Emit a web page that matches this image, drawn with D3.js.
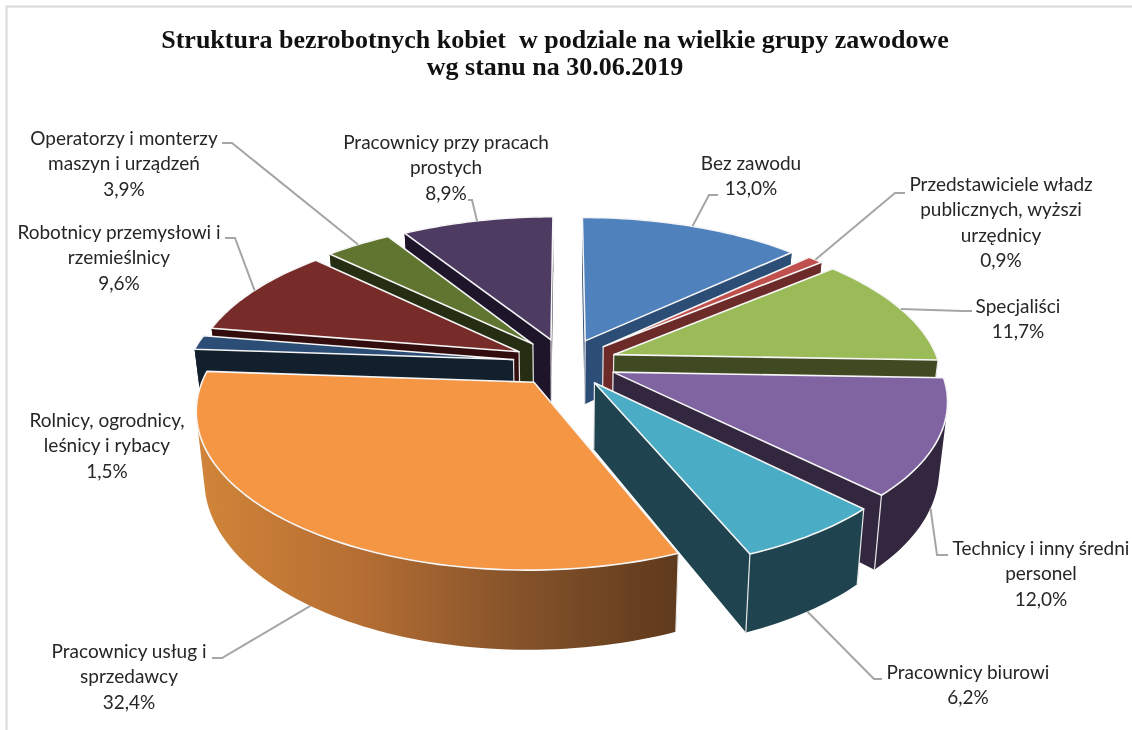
<!DOCTYPE html>
<html>
<head>
<meta charset="utf-8">
<style>
html, body { margin: 0; padding: 0; background: #fff; }
svg { display: block; filter: blur(0.35px); }
text { white-space: pre; }
</style>
</head>
<body>
<svg width="1132" height="730"></svg>
<script src="https://d3js.org/d3.v7.min.js"></script>
<script type="text/javascript">

// chart values
var values = [13.0, 0.9, 11.7, 12.0, 6.2, 32.4, 1.5, 9.6, 3.9, 8.9];
var percents = ["13,0%", "0,9%", "11,7%", "12,0%", "6,2%", "32,4%", "1,5%", "9,6%", "3,9%", "8,9%"];
var labelLines = [
	["Bez zawodu"],
	["Przedstawiciele władz", "publicznych, wyższi", "urzędnicy"],
	["Specjaliści"],
	["Technicy i inny średni", "personel"],
	["Pracownicy biurowi"],
	["Pracownicy usług i", "sprzedawcy"],
	["Rolnicy, ogrodnicy,", "leśnicy i rybacy"],
	["Robotnicy przemysłowi i", "rzemieślnicy"],
	["Operatorzy i monterzy", "maszyn i urządzeń"],
	["Pracownicy przy pracach", "prostych"]
];
var titleLines = ["Struktura bezrobotnych kobiet  w podziale na wielkie grupy zawodowe", "wg stanu na 30.06.2019"];

// colours
var topColors = ["#4f81bd", "#c0504d", "#9bbb59", "#8064a2", "#4bacc6", "#f59645", "#2c4d75", "#772c2a", "#5f7530", "#4d3b62"];
var wallColors = ["#2c4d75", "#6c2a28", "#404a22", "#33263f", "#1f444f", "#5f3a1c", "#12202e", "#330d0d", "#252e12", "#1e152b"];

// label layout: centre x, first line y, then the leader elbow and its end (null = no leader)
var labelX = [751, 1001, 1018, 1041, 968, 129, 107, 119, 124, 446];
var labelY = [163, 184, 306, 548, 672, 651, 420, 232, 138, 142];
var elbows = [[709, 195, 718, 195], [895, 193, 905, 193], [963, 311, 972, 311], [937, 555, 948, 555], [874, 679, 882, 679],
	[222, 658, 212, 658], null, [235, 238, 225, 238], [232, 143, 222, 143], [472, 200, 468, 200]];

var svg = d3.select("svg");
var width = 1132, height = 730;

// 3D pie geometry
var cx = 565, cy = 362.4;
var radiusX = 325, radiusY = 150;
var explode = 0.16, persp = 0.163;
var depth = 65, shrink = 0.978;

var color = d3.scaleOrdinal().domain(d3.range(10)).range(topColors);
var wallColor = d3.scaleOrdinal().domain(d3.range(10)).range(wallColors);

var pie = d3.pie().sort(null).startAngle(0).endAngle(2 * Math.PI);
var arcs = pie(values);

arcs.forEach(function(d, i) {
	d.mid = (d.startAngle + d.endAngle) / 2;
	d.i = i;
});

// project a point of the pie: r = 0..1 along angle a, slice exploded along m, z = 0 top, 1 bottom
function project(a, r, m, z) {
	var u = r * Math.sin(a) + explode * Math.sin(m);
	var v = -r * Math.cos(a) - explode * Math.cos(m);
	var s = 1 / (1 - persp * v);
	var x = radiusX * u * s;
	var y = radiusY * v * s;
	if (z) {
		x = x * shrink;
		y = y + depth * s;
	}
	return [cx + x, cy + y];
}

function rim(d, z) {
	var n = Math.max(4, Math.ceil((d.endAngle - d.startAngle) * 40));
	return d3.range(n + 1).map(function(i) {
		return project(d.startAngle + (d.endAngle - d.startAngle) * i / n, 1, d.mid, z);
	});
}

var line = d3.line();
var shape = function(pts) { return line(pts) + "Z"; };

// gradient of the big orange slice wall
var orangeRim = rim(arcs[5], 1);
var grad = svg.append("defs").append("linearGradient")
	.attr("id", "orangeWall")
	.attr("gradientUnits", "userSpaceOnUse")
	.attr("x1", d3.min(orangeRim, function(p) { return p[0]; }))
	.attr("x2", d3.max(orangeRim, function(p) { return p[0]; }))
	.attr("y1", 0).attr("y2", 0);
grad.append("stop").attr("offset", "0%").attr("stop-color", "#d08439");
grad.append("stop").attr("offset", "33%").attr("stop-color", "#b56e33");
grad.append("stop").attr("offset", "67%").attr("stop-color", "#84522a");
grad.append("stop").attr("offset", "100%").attr("stop-color", "#5f3a1c");

// frame
svg.append("path")
	.attr("d", "M6.5," + height + "V6.5H" + width)
	.attr("fill", "none")
	.attr("stroke", "#d9d9d9")
	.attr("stroke-width", 2);

// back slices first
var order = arcs.slice().sort(function(a, b) { return Math.cos(b.mid) - Math.cos(a.mid); });

var slices = svg.selectAll("g.slice")
	.data(order)
	.enter()
	.append("g")
	.attr("class", "slice");

slices.each(function(d) {
	var g = d3.select(this);
	var apexTop = project(0, 0, d.mid, 0);
	var apexBottom = project(0, 0, d.mid, 1);
	var rimTop = rim(d, 0);
	var rimBottom = rim(d, 1);
	var last = rimTop.length - 1;
	var wall = d.i === 5 ? "url(#orangeWall)" : wallColor(d.i);

	// radial walls
	[0, last].forEach(function(k) {
		g.append("path")
			.attr("d", shape([apexTop, rimTop[k], rimBottom[k], apexBottom]))
			.attr("fill", wallColor(d.i));
	});

	// outer wall: quads wound the same way in one path, so the side silhouette fills without seams
	var wallPath = d3.range(last).map(function(k) {
		var quad = [rimTop[k], rimTop[k + 1], rimBottom[k + 1], rimBottom[k]];
		if (d3.polygonArea(quad) < 0) quad.reverse();
		return shape(quad);
	}).join("");
	g.append("path")
		.attr("d", wallPath)
		.attr("fill", wall)
		.attr("fill-rule", "nonzero");

	// vertical edges: the apex, and rim corners only where they face the viewer
	var edges = [[apexTop, apexBottom]];
	if (Math.cos(d.startAngle) < 0) edges.push([rimTop[0], rimBottom[0]]);
	if (Math.cos(d.endAngle) < 0) edges.push([rimTop[last], rimBottom[last]]);
	edges.forEach(function(e) {
		g.append("path")
			.attr("d", line(e))
			.attr("stroke", "#e8e8e8")
			.attr("stroke-width", 1.2)
			.attr("fill", "none");
	});

	// top face
	g.append("path")
		.attr("d", shape([apexTop].concat(rimTop)))
		.attr("fill", color(d.i))
		.attr("stroke", "#f6f6f6")
		.attr("stroke-width", 1.6)
		.attr("stroke-linejoin", "round");
});

// leader lines start on the rim at the slice's middle angle
var frontSlices = [3, 4, 5];
arcs.forEach(function(d, i) {
	if (!elbows[i]) return;
	var start = project(d.mid, 1, d.mid, frontSlices.indexOf(i) >= 0 ? 1 : 0);
	var e = elbows[i];
	svg.append("path")
		.attr("d", line([start, [e[0], e[1]], [e[2], e[3]]]))
		.attr("fill", "none")
		.attr("stroke", "#a6a6a6")
		.attr("stroke-width", 2);
});

// labels
var lineStep = 25.5;
arcs.forEach(function(d, i) {
	var rows = labelLines[i].concat([percents[i]]);
	var t = svg.append("text")
		.attr("text-anchor", "middle")
		.attr("font-family", "Lato, 'Noto Sans', sans-serif")
		.attr("font-size", 19)
		.attr("fill", "#262626");
	rows.forEach(function(row, k) {
		t.append("tspan")
			.attr("x", labelX[i])
			.attr("y", labelY[i] + k * lineStep)
			.attr("dy", "0.35em")
			.text(row);
	});
});

// title
titleLines.forEach(function(row, k) {
	svg.append("text")
		.attr("x", 555)
		.attr("y", 39 + k * 27)
		.attr("dy", "0.35em")
		.attr("text-anchor", "middle")
		.attr("font-family", "'Liberation Serif', serif")
		.attr("font-weight", "bold")
		.attr("font-size", 26)
		.attr("fill", "#111")
		.text(row);
});

</script>
</body>
</html>
